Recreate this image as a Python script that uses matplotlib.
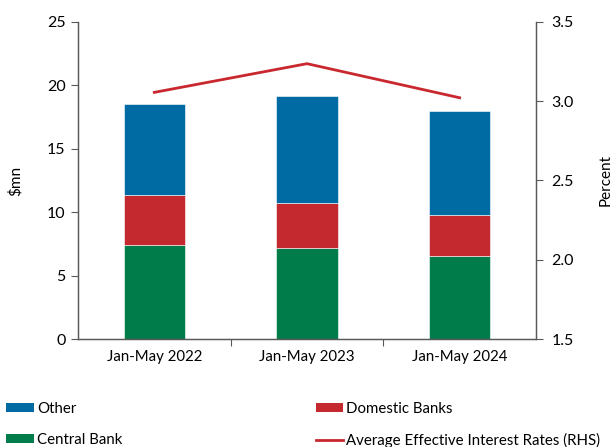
"""Stacked borrowing by lender with average effective interest rate."""

import matplotlib.pyplot as plt
from matplotlib.lines import Line2D
from matplotlib.patches import Patch


periods = ['Jan-May 2022', 'Jan-May 2023', 'Jan-May 2024']
central_bank = [7.44, 7.20, 6.55]
domestic_banks = [3.89, 3.50, 3.21]
other = [7.18, 8.44, 8.22]
avg_rate = [3.056, 3.237, 3.022]

BLUE = '#006ba2'
RED = '#c4292f'
GREEN = '#007c4a'
LINE_RED = '#c8282e'
AXIS_GREY = '#595959'

plt.rcParams.update({
    'font.family': ['Lato', 'DejaVu Sans'],
    'font.size': 11,
})

fig = plt.figure(figsize=(6.16, 4.47), dpi=100)
ax = fig.add_axes([0.1266, 0.2416, 0.7435, 0.7092])
ax2 = ax.twinx()

x = list(range(len(periods)))
width = 0.4
edge = dict(edgecolor='white', linewidth=0.4)

ax.bar(x, central_bank, width, color=GREEN, **edge, zorder=2)
bottom2 = central_bank
ax.bar(x, domestic_banks, width, bottom=bottom2, color=RED, **edge, zorder=2)
bottom3 = [a + b for a, b in zip(central_bank, domestic_banks)]
ax.bar(x, other, width, bottom=bottom3, color=BLUE, **edge, zorder=2)

ax2.plot(x, avg_rate, color=LINE_RED, linewidth=2.0, zorder=3)

ax.set_xlim(-0.5, 2.5)
ax.set_ylim(0, 25)
ax.set_yticks(range(0, 26, 5))
ax2.set_ylim(1.5, 3.5)
ax2.set_yticks([1.5, 2.0, 2.5, 3.0, 3.5])
ax2.set_yticklabels(['1.5', '2.0', '2.5', '3.0', '3.5'])

# category labels sit between boundary ticks
ax.set_xticks([0.5, 1.5])
ax.set_xticklabels([])
ax.set_xticks(x, minor=True)
ax.set_xticklabels(periods, minor=True)
ax.tick_params(axis='x', which='major', length=5, direction='out',
               color=AXIS_GREY)
ax.tick_params(axis='x', which='minor', length=0, pad=8, labelsize=10.8)

ax.tick_params(axis='y', length=5, direction='out', color=AXIS_GREY,
               labelsize=11.5, pad=4)
ax2.tick_params(axis='y', length=5, direction='out', color=AXIS_GREY,
                labelsize=11.5, pad=6)

for a in (ax, ax2):
    a.spines['top'].set_visible(False)
    for side in ('left', 'right', 'bottom'):
        a.spines[side].set_color(AXIS_GREY)
        a.spines[side].set_linewidth(0.9)

ax.set_ylabel('$mn', fontsize=11, labelpad=17)
ax2.set_ylabel('Percent', fontsize=11, labelpad=18)

handles = [
    Patch(facecolor=BLUE, label='Other'),
    Patch(facecolor=GREEN, label='Central Bank'),
    Patch(facecolor=RED, label='Domestic Banks'),
    Line2D([0], [0], color=LINE_RED, linewidth=2.0,
           label='Average Effective Interest Rates (RHS)'),
]
fig.legend(handles=handles, loc='upper left', bbox_to_anchor=(0.0, 0.114),
           ncol=2, frameon=False, fontsize=10.8, handlelength=1.85,
           handleheight=0.58, handletextpad=0.2, labelspacing=1.1,
           columnspacing=12.9, borderaxespad=0)

fig.savefig('out.png', dpi=100)
